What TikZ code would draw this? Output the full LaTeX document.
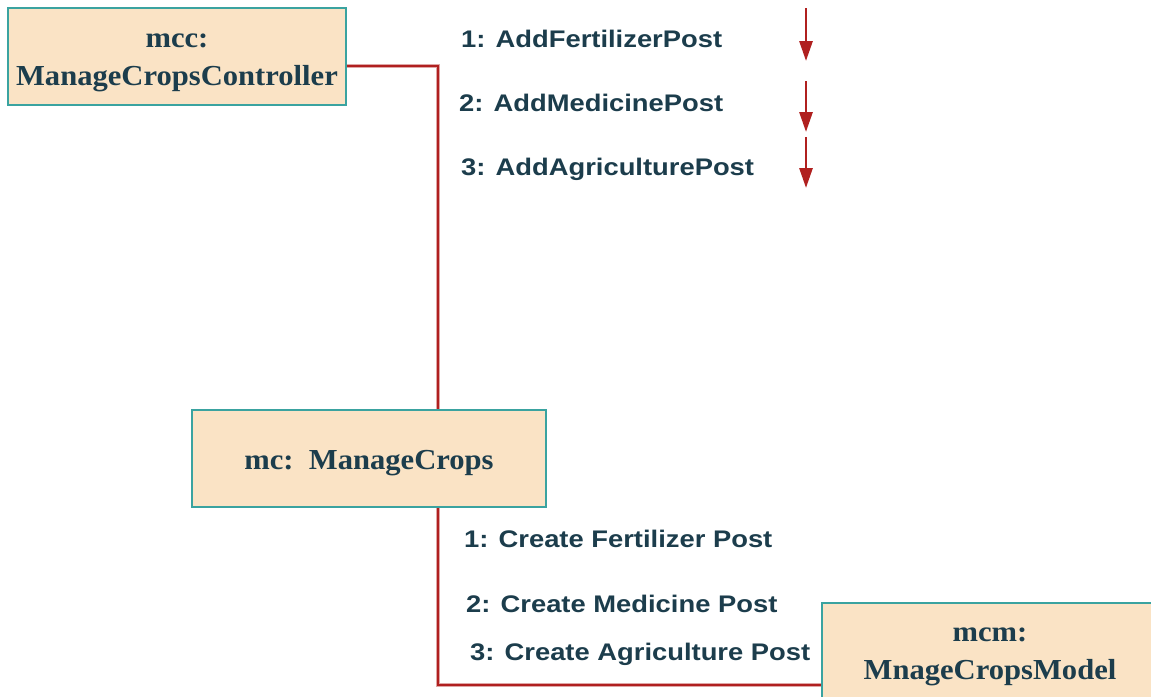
\documentclass[tikz,border=0pt]{standalone}
\usepackage{fontspec}
\setmainfont{Liberation Serif}
\setsansfont{Liberation Sans}
\usetikzlibrary{arrows.meta}
\definecolor{boxfill}{HTML}{FAE3C5}
\definecolor{boxline}{HTML}{3AA3A0}
\definecolor{linkred}{HTML}{B0201F}
\definecolor{txt}{HTML}{1C3D4C}
\tikzset{
  objbox/.style={draw=boxline, line width=1.6pt, fill=boxfill, inner sep=0pt},
  objtext/.style={text=txt, align=center, inner sep=0pt,
    font=\fontsize{29}{38}\selectfont\bfseries},
  link/.style={draw=linkred, line width=2.6pt, preaction={draw=linkred!40, line width=4.4pt}},
  msgarrow/.style={draw=linkred, line width=2.8pt, -{Triangle[length=20pt,width=13pt]}},
  msg/.style={anchor=base west, inner sep=0pt, text=txt, font=\fontsize{24}{28}\selectfont\sffamily\bfseries},
}
\newcommand{\sx}[1]{\scalebox{1.14}[1]{#1}}
\newcommand{\rx}[1]{\scalebox{1.055}[1]{#1}}
\begin{document}
\begin{tikzpicture}[x=1pt,y=-1pt]
\useasboundingbox (0,0) rectangle (1151,696);
\clip (0,0) rectangle (1151,696);
\fill[white] (0,0) rectangle (1151,696);

\node[objbox, minimum width=338pt, minimum height=97pt] (mcc) at (177,56.5) {};
\node[objbox, minimum width=354pt, minimum height=97pt] (mc) at (369,458.5) {};
\node[objbox, minimum width=336pt, minimum height=104pt] (mcm) at (990,655) {};
\node[objtext] (mcct) at ([yshift=-6pt]mcc.center) {\rx{mcc:}\\\rx{ManageCropsController}};
\node[objtext] (mct) at ([yshift=-5pt]mc.center) {\rx{mc:\ \ ManageCrops}};
\node[objtext] (mcmt) at ([yshift=-2pt]mcm.center) {\rx{mcm:}\\\rx{MnageCropsModel}};

\draw[link] ([yshift=-9.5pt]mcc.east) -| ([xshift=69pt]mc.north);
\draw[link] ([xshift=69pt]mc.south) |- ([yshift=-30pt]mcm.west);

\coordinate (a1s) at (806,8);   \coordinate (a1e) at (806,61);
\coordinate (a2s) at (806,81);  \coordinate (a2e) at (806,132);
\coordinate (a3s) at (806,137); \coordinate (a3e) at (806,188);
\draw[msgarrow] (a1s) -- (a1e);
\draw[msgarrow] (a2s) -- (a2e);
\draw[msgarrow] (a3s) -- (a3e);

\node[msg] (m1) at (461,47) {\sx{1: AddFertilizerPost}};
\node[msg] (m2) at (459,111) {\sx{2: AddMedicinePost}};
\node[msg] (m3) at (461,175) {\sx{3: AddAgriculturePost}};

\node[msg] (c1) at (464,547) {\sx{1: Create Fertilizer Post}};
\node[msg] (c2) at (466,612) {\sx{2: Create Medicine Post}};
\node[msg] (c3) at (470,660) {\sx{3: Create Agriculture Post}};
\end{tikzpicture}
\end{document}
